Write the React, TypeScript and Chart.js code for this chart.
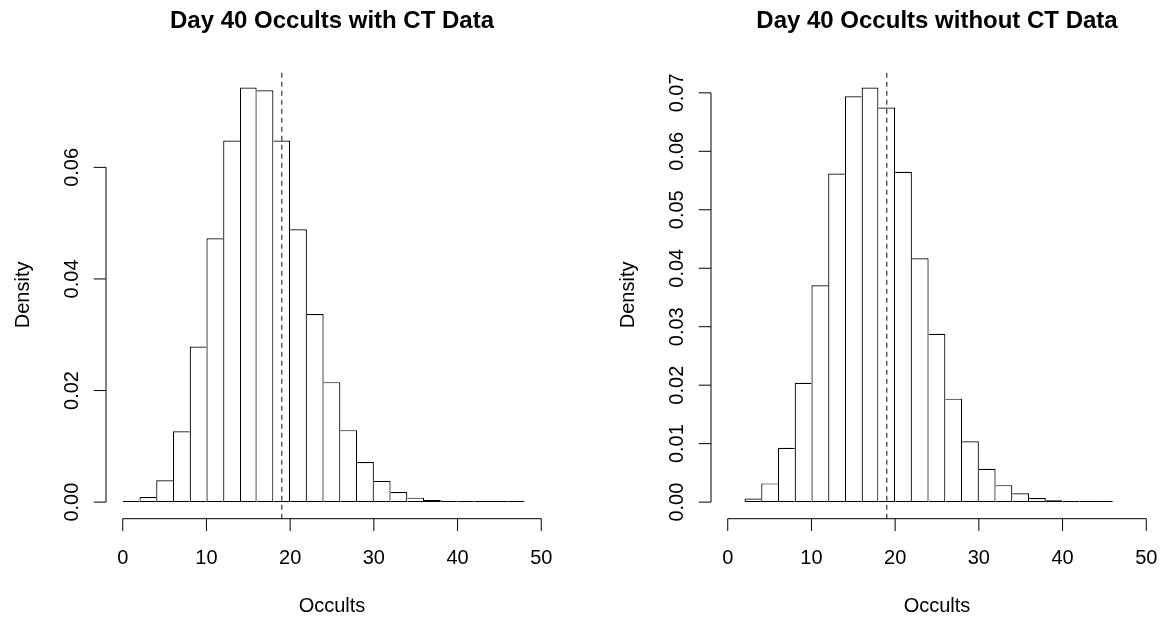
import React, { useEffect, useRef } from "react";
import { Chart, registerables } from "chart.js";

Chart.register(...registerables);

// ---- data ----
const leftBinStarts = [0, 2, 4, 6, 8, 10, 12, 14, 16, 18, 20, 22, 24, 26, 28, 30, 32, 34, 36, 38, 40, 42, 44, 46];
const leftDensity = [
  0.0002, 0.0009, 0.0039, 0.0127, 0.0279, 0.0473, 0.0648, 0.0743, 0.0738, 0.0648, 0.0489, 0.0337,
  0.0215, 0.0129, 0.0072, 0.0038, 0.0018, 0.0008, 0.0004, 0.0002, 0.0001, 0.00005, 0.00003, 0.00002,
];
const rightBinStarts = [2, 4, 6, 8, 10, 12, 14, 16, 18, 20, 22, 24, 26, 28, 30, 32, 34, 36, 38, 40, 42, 44];
const rightDensity = [
  0.0006, 0.0032, 0.0093, 0.0204, 0.0371, 0.0562, 0.0694, 0.0709, 0.0675, 0.0565, 0.0417, 0.0288,
  0.0177, 0.0104, 0.0057, 0.0029, 0.0015, 0.0007, 0.0003, 0.00015, 0.0001, 0.00004,
];
const binWidth = 2;
const xTickValues = [0, 10, 20, 30, 40, 50];
const leftYTicks = [0, 0.02, 0.04, 0.06];
const leftYTickLabels = ["0.00", "0.02", "0.04", "0.06"];
const rightYTicks = [0, 0.01, 0.02, 0.03, 0.04, 0.05, 0.06, 0.07];
const rightYTickLabels = ["0.00", "0.01", "0.02", "0.03", "0.04", "0.05", "0.06", "0.07"];
const markerValue = 19;
const leftTitle = "Day 40 Occults with CT Data";
const rightTitle = "Day 40 Occults without CT Data";
const xAxisTitle = "Occults";
const yAxisTitle = "Density";
const xMin = -2;
const xMax = 52;

const FONT = '"Liberation Sans", Arial, Helvetica, sans-serif';

type Props = {
  title: string;
  binStarts: number[];
  density: number[];
  yTicks: number[];
  yTickLabels: string[];
  width: number;
  left: number;
  padRight: number;
};

function Histogram({ title, binStarts, density, yTicks, yTickLabels, width, left, padRight }: Props) {
  const ref = useRef<HTMLCanvasElement>(null);

  useEffect(() => {
    if (!ref.current) return;
    const ymax = Math.max(...density);
    const yLo = -0.04 * ymax;
    const yHi = 1.04 * ymax;
    const n = density.length;
    const points = binStarts.map((s, i) => ({ x: s + binWidth / 2, y: density[i] }));

    const borderWidth = (c: any) => {
      const i = c.dataIndex;
      const l = i === 0 || density[i] >= density[i - 1] ? 1.2 : 0;
      const r = i === n - 1 || density[i] > density[i + 1] ? 1.2 : 0;
      return { top: 1.2, bottom: 1.2, left: l, right: r };
    };

    const axesPlugin = {
      id: "rAxes",
      afterDraw(chart: any) {
        const { ctx, chartArea } = chart;
        const xs = chart.scales.x;
        const ys = chart.scales.y;
        ctx.save();
        ctx.strokeStyle = "#000";
        ctx.fillStyle = "#000";
        ctx.lineWidth = 1;
        const tickLen = 12.3;

        // x axis
        const xb = chartArea.bottom;
        ctx.beginPath();
        ctx.moveTo(xs.getPixelForValue(xTickValues[0]), xb);
        ctx.lineTo(xs.getPixelForValue(xTickValues[xTickValues.length - 1]), xb);
        xTickValues.forEach((t) => {
          const px = xs.getPixelForValue(t);
          ctx.moveTo(px, xb);
          ctx.lineTo(px, xb + tickLen);
        });
        // y axis
        const xl = chartArea.left;
        ctx.moveTo(xl, ys.getPixelForValue(yTicks[0]));
        ctx.lineTo(xl, ys.getPixelForValue(yTicks[yTicks.length - 1]));
        yTicks.forEach((t) => {
          const py = ys.getPixelForValue(t);
          ctx.moveTo(xl, py);
          ctx.lineTo(xl - tickLen, py);
        });
        ctx.stroke();

        ctx.font = `20px ${FONT}`;
        ctx.textAlign = "center";
        ctx.textBaseline = "alphabetic";
        xTickValues.forEach((t) => {
          ctx.fillText(String(t), xs.getPixelForValue(t), 563.5);
        });
        yTicks.forEach((t, i) => {
          ctx.save();
          ctx.translate(xl - 28.5, ys.getPixelForValue(t));
          ctx.rotate(-Math.PI / 2);
          ctx.fillText(yTickLabels[i], 0, 0);
          ctx.restore();
        });

        const cx = (chartArea.left + chartArea.right) / 2;
        const cy = (chartArea.top + chartArea.bottom) / 2;
        ctx.fillText(xAxisTitle, cx, 611.7);
        ctx.save();
        ctx.translate(29.3, cy);
        ctx.rotate(-Math.PI / 2);
        ctx.fillText(yAxisTitle, 0, 0);
        ctx.restore();

        ctx.font = `bold 24px ${FONT}`;
        ctx.fillText(title, cx, 28.3);
        ctx.restore();
      },
    };

    const chart = new Chart(ref.current, {
      type: "bar",
      data: {
        datasets: [
          {
            type: "line",
            data: [
              { x: markerValue, y: yLo },
              { x: markerValue, y: yHi },
            ],
            borderColor: "#333",
            borderWidth: 1.2,
            borderDash: [5, 4],
            pointRadius: 0,
            fill: false,
            order: 0,
          } as any,
          {
            type: "bar",
            data: points,
            backgroundColor: "#fff",
            borderColor: "#000",
            borderWidth: borderWidth,
            borderSkipped: false,
            inflateAmount: 0,
            barPercentage: 1,
            categoryPercentage: 1,
            minBarLength: 1,
            order: 1,
          } as any,
        ],
      },
      options: {
        animation: false,
        responsive: false,
        events: [],
        layout: { padding: { left: 106, right: padRight, top: 71, bottom: 101.3 } },
        scales: {
          x: { type: "linear", display: false, offset: false, min: xMin, max: xMax, ticks: { stepSize: 10 } },
          y: { type: "linear", display: false, min: yLo, max: yHi },
        },
        plugins: {
          legend: { display: false },
          tooltip: { enabled: false },
          title: { display: false },
        },
      } as any,
      plugins: [axesPlugin],
    });
    return () => chart.destroy();
  }, []);

  return (
    <canvas
      ref={ref}
      width={width}
      height={620}
      style={{ position: "absolute", left, top: 0, width, height: 620, display: "block" }}
    />
  );
}

export default function App() {
  return (
    <div
      style={{
        position: "fixed",
        left: 0,
        top: 0,
        width: 1163,
        height: 620,
        background: "#fff",
        overflow: "hidden",
      }}
    >
      <Histogram
        title={leftTitle}
        binStarts={leftBinStarts}
        density={leftDensity}
        yTicks={leftYTicks}
        yTickLabels={leftYTickLabels}
        width={605}
        left={0}
        padRight={47}
      />
      <Histogram
        title={rightTitle}
        binStarts={rightBinStarts}
        density={rightDensity}
        yTicks={rightYTicks}
        yTickLabels={rightYTickLabels}
        width={558}
        left={605}
        padRight={0}
      />
    </div>
  );
}
